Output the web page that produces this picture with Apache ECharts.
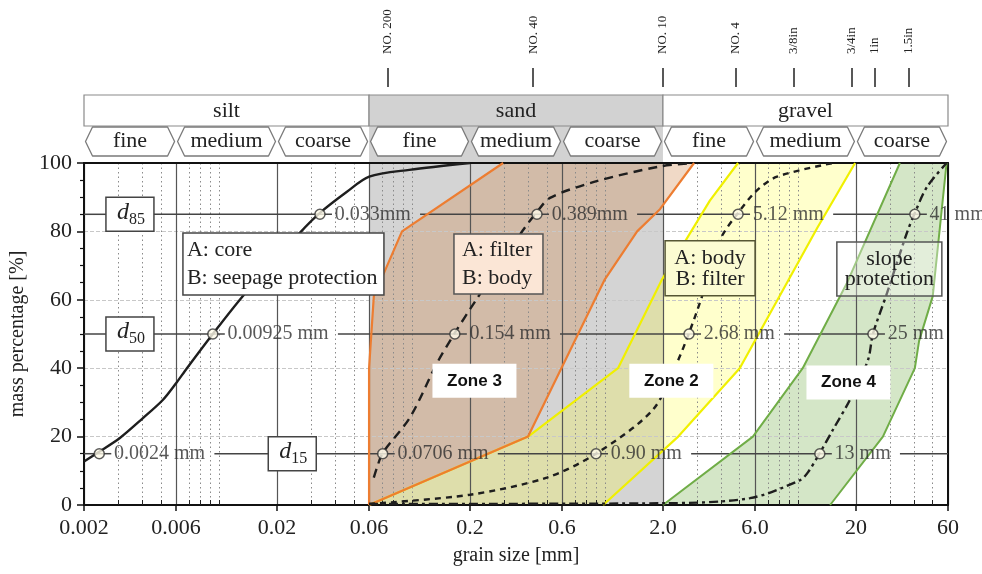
<!DOCTYPE html>
<html>
<head>
<meta charset="utf-8">
<script src="https://cdn.jsdelivr.net/npm/echarts@6/dist/echarts.min.js"></script>
<style>
    html, body { margin: 0; padding: 0; background: #fff; }
    #chart { width: 982px; height: 574px; }
</style>
</head>
<body>
<div id="chart"></div>
<script>
// grain size in mm (x, log), mass percentage (y)
var majorTicks = [0.002, 0.006, 0.02, 0.06, 0.2, 0.6, 2, 6, 20, 60];
var majorLabels = ['0.002', '0.006', '0.02', '0.06', '0.2', '0.6', '2.0', '6.0', '20', '60'];
var minorTicks = [0.003, 0.004, 0.005, 0.007, 0.008, 0.009, 0.01, 0.03, 0.04, 0.05,
    0.07, 0.08, 0.09, 0.1, 0.3, 0.4, 0.5, 0.7, 0.8, 0.9, 1, 3, 4, 5, 7, 8, 9, 10, 30, 40, 50];
var sieveSizes = [0.075, 0.425, 2, 4.75, 9.5, 19, 25, 37.5];
var sieveLabels = ['NO. 200', 'NO. 40', 'NO. 10', 'NO. 4', '3/8in', '3/4in', '1in', '1.5in'];
var soilNames = ['silt', 'sand', 'gravel'];
var soilBounds = [0.002, 0.06, 2, 60];
var subNames = ['fine', 'medium', 'coarse', 'fine', 'medium', 'coarse', 'fine', 'medium', 'coarse'];

// A: core / B: seepage protection
var coreCurve = [[0.002, 12.7], [0.00234, 15.2], [0.00307, 19.6], [0.00404, 25.4], [0.00512, 30.7],
    [0.006, 35.6], [0.00683, 40], [0.0093, 50], [0.0136, 61.7], [0.0262, 79.5], [0.0334, 85.4],
    [0.0459, 91.5], [0.0601, 96], [0.097, 98], [0.2, 100]];
// zone 3 (A: filter / B: body)
var zone3Curve = [[0.0635, 8], [0.066, 11], [0.0706, 15.2], [0.098, 25.7], [0.135, 41.5], [0.167, 50.3],
    [0.212, 59.4], [0.377, 80.4], [0.445, 85.7], [0.52, 89.8], [0.87, 94.4], [1.93, 99], [2.86, 100]];
var zone3Left = [[0.06, 0], [0.06, 40], [0.0635, 61], [0.0889, 80], [0.297, 100]];
var zone3Right = [[0.06, 0], [0.4, 20], [1.0, 66], [1.47, 80], [1.93, 86.5], [2.9, 100]];
// zone 2 (A: body / B: filter)
var zone2Curve = [[0.06, 0.3], [0.2, 3], [0.5, 8], [0.9, 15], [1.77, 27.8], [2.36, 41.5], [2.73, 50.3],
    [3.18, 60.8], [3.95, 77.5], [4.9, 85.4], [6.14, 92], [7.8, 96], [15.2, 100]];
var zone2Left = [[0.06, 0], [0.4, 20], [1.17, 40], [1.98, 66], [3.5, 89], [4.9, 100]];
var zone2Right = [[0.98, 0], [2.4, 20], [5.0, 40], [12.6, 81], [19.8, 100]];
// zone 4 (slope protection)
var zone4Curve = [[0.06, 0.3], [2.0, 0.5], [5.65, 2], [10.3, 7.3], [11.3, 9.6], [13, 15.2], [15.2, 22],
    [18.6, 30.7], [23.1, 42.4], [24.5, 50], [29, 62], [36.7, 79.5], [40.4, 85.4], [46.7, 93], [59, 100]];
var zone4Left = [[2, 0], [5.85, 20], [10.6, 40], [18, 65], [33.8, 100]];
var zone4Right = [[14.7, 0], [27.6, 20], [40.4, 40], [42.5, 48], [50, 61], [59, 100]];

// characteristic grain sizes d15, d50, d85
var dLevels = [15, 50, 85];
var dNames = ['15', '50', '85'];
var coreD = [0.0024, 0.0093, 0.0334];
var coreDText = ['0.0024 mm', '0.00925 mm', '0.033mm'];
var zone3D = [0.0706, 0.167, 0.445];
var zone3DText = ['0.0706 mm', '0.154 mm', '0.389mm'];
var zone2D = [0.9, 2.73, 4.9];
var zone2DText = ['0.90 mm', '2.68 mm', '5.12 mm'];
var zone4D = [13, 24.5, 40.4];
var zone4DText = ['13 mm', '25 mm', '41 mm'];

var noteTexts = ['A: core\nB: seepage protection', 'A: filter\nB: body', 'A: body\nB: filter', 'slope\nprotection'];
var zoneNames = ['Zone 3', 'Zone 2', 'Zone 4'];

// layout of the annotation boxes (centre in data units, size in px)
var noteLayout = [
    { at: [0.0216, 70.5], w: 201, h: 62, align: 'left', pad: 4, lh: 28, fill: '#ffffff', stroke: '#444' },
    { at: [0.281, 70.5], w: 89, h: 60, align: 'left', pad: 8, lh: 28, fill: '#fbe6d6', stroke: '#555' },
    { at: [3.51, 69.2], w: 90, h: 55, align: 'center', pad: 0, lh: 21, fill: '#fbfbd2', stroke: '#555533' },
    { at: [29.8, 69.0], w: 105, h: 54, align: 'center', pad: 0, lh: 20, fill: 'rgba(255,255,255,0.35)', stroke: '#555' }
];
var zoneLabelAt = [[0.211, 36.3], [2.21, 36.3], [18.3, 35.8]];
var dBoxAt = [0.024, 0.00346, 0.00346];

var SERIF = 'Liberation Serif';
var LABEL_FONT = '20px "Liberation Serif"';

var markerSets = [
    { d: coreD, text: coreDText },
    { d: zone3D, text: zone3DText },
    { d: zone2D, text: zone2DText },
    { d: zone4D, text: zone4DText }
];

var measureCtx = document.createElement('canvas').getContext('2d');
function textWidth(t) {
    measureCtx.font = LABEL_FONT;
    return measureCtx.measureText(t).width;
}

function lookup(values, labels) {
    return function (v) {
        for (var i = 0; i < values.length; i++) {
            if (Math.abs(Math.log(v / values[i])) < 1e-4) return labels[i];
        }
        return '';
    };
}

function polygonOf(left, right) {
    return left.concat(right.slice().reverse());
}

function polygonSeries(points, fill) {
    return {
        type: 'custom',
        xAxisIndex: 0,
        yAxisIndex: 0,
        z: 2,
        silent: true,
        data: [[1, 50]],
        renderItem: function (params, api) {
            return {
                type: 'polygon',
                shape: { points: points.map(function (p) { return api.coord(p); }) },
                style: { fill: fill }
            };
        }
    };
}

function lineSeries(data, color, width, type, z) {
    return {
        type: 'line',
        xAxisIndex: 0,
        yAxisIndex: 0,
        data: data,
        symbol: 'none',
        smooth: false,
        z: z,
        silent: true,
        lineStyle: { color: color, width: width, type: type }
    };
}

function curveSeries(data, type) {
    var s = lineSeries(data, '#1e1e1e', 2.4, type, 6);
    s.smooth = 0.3;
    return s;
}

var markerData = [];
markerSets.forEach(function (s) {
    s.d.forEach(function (d, i) {
        markerData.push({ value: [d, dLevels[i]], label: { formatter: s.text[i] } });
    });
});

var chart = echarts.init(document.getElementById('chart'));

var option = {
    animation: false,
    grid: [
        { left: 84, right: 34, top: 163, bottom: 69 },
        { left: 84, right: 34, top: 95, height: 68 }
    ],
    xAxis: [
        {   // main axis with class boundaries
            type: 'log', gridIndex: 0, min: 0.002, max: 60, position: 'bottom', z: 3,
            axisLine: { show: true, lineStyle: { color: '#111', width: 2 } },
            axisTick: { show: true, customValues: majorTicks, length: 6, lineStyle: { color: '#111', width: 1.5 } },
            axisLabel: {
                customValues: majorTicks, formatter: lookup(majorTicks, majorLabels),
                fontFamily: SERIF, fontSize: 22, color: '#222', margin: 12
            },
            splitLine: { show: true, lineStyle: { color: '#555', width: 1.2 } },
            minorTick: { show: false },
            name: 'grain size [mm]', nameLocation: 'middle', nameGap: 41,
            nameTextStyle: { fontFamily: SERIF, fontSize: 20, color: '#222' }
        },
        {   // minor dotted grid
            type: 'log', gridIndex: 0, min: 0.002, max: 60, position: 'bottom', z: 3,
            axisLine: { show: false },
            axisTick: { show: true, inside: true, customValues: minorTicks, length: 5, lineStyle: { color: '#222', width: 1 } },
            axisLabel: { show: false },
            splitLine: { show: true, lineStyle: { color: '#8a8a8a', width: 1, type: [1.5, 3] } }
        },
        {   // sieve sizes
            type: 'log', gridIndex: 0, min: 0.002, max: 60, position: 'top', offset: 76, z: 3,
            axisLine: { show: false },
            axisTick: { show: true, customValues: sieveSizes, length: 19, lineStyle: { color: '#222', width: 1.5 } },
            axisLabel: {
                customValues: sieveSizes, formatter: lookup(sieveSizes, sieveLabels), rotate: -90,
                fontFamily: SERIF, fontSize: 13, color: '#222', margin: 33
            },
            splitLine: { show: false }
        },
        {   // top border
            type: 'log', gridIndex: 0, min: 0.002, max: 60, position: 'top', z: 3,
            axisLine: { show: true, lineStyle: { color: '#111', width: 2 } },
            axisTick: { show: false }, axisLabel: { show: false }, splitLine: { show: false }
        },
        {   // header
            type: 'log', gridIndex: 1, min: 0.002, max: 60, show: false
        }
    ],
    yAxis: [
        {
            type: 'value', gridIndex: 0, min: 0, max: 100, interval: 20, z: 3,
            axisLine: { show: true, lineStyle: { color: '#111', width: 2 } },
            axisTick: { show: true, length: 7, lineStyle: { color: '#111', width: 1.5 } },
            minorTick: { show: true, splitNumber: 4, length: 4, lineStyle: { color: '#111', width: 1.2 } },
            axisLabel: { fontFamily: SERIF, fontSize: 22, color: '#222', margin: 12 },
            splitLine: { show: true, lineStyle: { color: '#c8c8c8', width: 1, type: [4, 2] } },
            name: 'mass percentage [%]', nameLocation: 'middle', nameGap: 40,
            nameTextStyle: { fontFamily: SERIF, fontSize: 20, color: '#222' }
        },
        {
            type: 'value', gridIndex: 0, min: 0, max: 100, position: 'right', z: 3,
            axisLine: { show: true, lineStyle: { color: '#111', width: 2 } },
            axisTick: { show: false }, axisLabel: { show: false }, splitLine: { show: false }
        },
        { type: 'value', gridIndex: 1, min: 0, max: 2, show: false }
    ],
    series: [
        {   // header: silt / sand / gravel
            type: 'custom', xAxisIndex: 4, yAxisIndex: 2, silent: true,
            data: soilNames.map(function (n, i) { return [soilBounds[i], 1]; }),
            renderItem: function (params, api) {
                var i = params.dataIndex;
                var a = api.coord([soilBounds[i], 2]), b = api.coord([soilBounds[i + 1], 0]);
                var sand = soilNames[i] === 'sand';
                var children = [];
                if (sand) {
                    children.push({ type: 'rect', shape: { x: a[0], y: a[1], width: b[0] - a[0], height: b[1] - a[1] }, style: { fill: '#d2d2d2' } });
                }
                children.push({ type: 'rect', shape: { x: a[0], y: a[1], width: b[0] - a[0], height: 31 },
                    style: { fill: sand ? '#d2d2d2' : '#fff', stroke: '#8a8a8a', lineWidth: 1.2 } });
                children.push({ type: 'text', style: { text: soilNames[i], x: (a[0] + b[0]) / 2, y: a[1] + 16,
                    align: 'center', verticalAlign: 'middle', font: '22px "Liberation Serif"', fill: '#222' } });
                return { type: 'group', children: children };
            }
        },
        {   // header: fine / medium / coarse
            type: 'custom', xAxisIndex: 4, yAxisIndex: 2, silent: true, z: 3,
            data: subNames.map(function (n, i) { return [majorTicks[i], 1]; }),
            renderItem: function (params, api) {
                var i = params.dataIndex;
                var x1 = api.coord([majorTicks[i], 0])[0] + 1.5;
                var x2 = api.coord([majorTicks[i + 1], 0])[0] - 1.5;
                var top = api.coord([1, 2])[1];
                var y1 = top + 32, y2 = top + 61, ym = (y1 + y2) / 2, d = 7;
                return {
                    type: 'group',
                    children: [
                        { type: 'polygon', shape: { points: [[x1, ym], [x1 + d, y1], [x2 - d, y1], [x2, ym], [x2 - d, y2], [x1 + d, y2]] },
                          style: { fill: '#fff', stroke: '#7a7a7a', lineWidth: 1.3, lineJoin: 'round' } },
                        { type: 'text', style: { text: subNames[i], x: (x1 + x2) / 2, y: ym, align: 'center', verticalAlign: 'middle',
                          font: '22px "Liberation Serif"', fill: '#222' } }
                    ]
                };
            }
        },
        {   // sand background in the plot
            type: 'custom', xAxisIndex: 0, yAxisIndex: 0, silent: true, z: 1,
            data: [[soilBounds[1], 50]],
            renderItem: function (params, api) {
                var a = api.coord([soilBounds[1], 100]), b = api.coord([soilBounds[2], 0]);
                return { type: 'rect', shape: { x: a[0], y: a[1], width: b[0] - a[0], height: b[1] - a[1] }, style: { fill: '#d4d4d4' } };
            }
        },
        polygonSeries(polygonOf(zone4Left, zone4Right), 'rgba(112,173,71,0.30)'),
        polygonSeries(polygonOf(zone2Left, zone2Right), 'rgba(255,255,40,0.24)'),
        polygonSeries(polygonOf(zone3Left, zone3Right.slice(1)), 'rgba(205,130,65,0.30)'),
        {   // d15 / d50 / d85 reference lines with their boxes
            type: 'custom', xAxisIndex: 0, yAxisIndex: 0, silent: true, z: 4,
            data: dLevels.map(function (l) { return [1, l]; }),
            renderItem: function (params, api) {
                var i = params.dataIndex, level = dLevels[i];
                var y = api.coord([1, level])[1];
                var xs = params.coordSys.x, xe = xs + params.coordSys.width;
                var bc = api.coord([dBoxAt[i], level])[0];
                var gaps = [[bc - 24, bc + 24]];
                markerSets.forEach(function (s) {
                    var mx = api.coord([s.d[i], level])[0];
                    gaps.push([mx + 12, mx + 14 + textWidth(s.text[i]) + 10]);
                });
                gaps.sort(function (a, b) { return a[0] - b[0]; });
                var children = [];
                var cur = xs;
                gaps.forEach(function (g) {
                    if (g[0] > cur) {
                        children.push({ type: 'line', shape: { x1: cur, y1: y, x2: Math.min(g[0], xe), y2: y }, style: { stroke: '#444', lineWidth: 1.5 } });
                    }
                    cur = Math.max(cur, g[1]);
                });
                if (cur < xe) {
                    children.push({ type: 'line', shape: { x1: cur, y1: y, x2: xe, y2: y }, style: { stroke: '#444', lineWidth: 1.5 } });
                }
                children.push({ type: 'rect', shape: { x: bc - 24, y: y - 17, width: 48, height: 34 }, style: { fill: '#fff', stroke: '#444', lineWidth: 1.5 } });
                children.push({ type: 'text', style: { text: 'd', x: bc - 7, y: y - 2, align: 'center', verticalAlign: 'middle',
                    font: 'italic 24px "Liberation Serif"', fill: '#222' } });
                children.push({ type: 'text', style: { text: dNames[i], x: bc + 7, y: y + 5, align: 'center', verticalAlign: 'middle',
                    font: '16px "Liberation Serif"', fill: '#222' } });
                return { type: 'group', children: children };
            }
        },
        lineSeries(zone4Left, '#70ad47', 2, 'solid', 5),
        lineSeries(zone4Right, '#70ad47', 2, 'solid', 5),
        lineSeries(zone2Left, '#f0f000', 2.2, 'solid', 5),
        lineSeries(zone2Right, '#f0f000', 2.2, 'solid', 5),
        lineSeries(zone3Left, '#ed7d31', 2.2, 'solid', 5),
        lineSeries(zone3Right, '#ed7d31', 2.2, 'solid', 5),
        curveSeries(coreCurve, 'solid'),
        curveSeries(zone3Curve, [9, 6]),
        curveSeries(zone2Curve, [6, 5]),
        curveSeries(zone4Curve, [9, 4, 3, 4]),
        {   // annotation boxes
            type: 'custom', xAxisIndex: 0, yAxisIndex: 0, silent: true, z: 7,
            data: noteLayout.map(function (b) { return b.at; }),
            renderItem: function (params, api) {
                var b = noteLayout[params.dataIndex];
                var c = api.coord(b.at);
                var left = c[0] - b.w / 2;
                return {
                    type: 'group',
                    children: [
                        { type: 'rect', shape: { x: left, y: c[1] - b.h / 2, width: b.w, height: b.h },
                          style: { fill: b.fill, stroke: b.stroke, lineWidth: 1.5 } },
                        { type: 'text', style: { text: noteTexts[params.dataIndex], x: b.align === 'left' ? left + b.pad : c[0], y: c[1],
                          align: b.align, verticalAlign: 'middle', font: '22px "Liberation Serif"', lineHeight: b.lh, fill: '#222' } }
                    ]
                };
            }
        },
        {   // zone labels
            type: 'custom', xAxisIndex: 0, yAxisIndex: 0, silent: true, z: 8,
            data: zoneLabelAt,
            renderItem: function (params, api) {
                var c = api.coord(zoneLabelAt[params.dataIndex]);
                return {
                    type: 'group',
                    children: [
                        { type: 'rect', shape: { x: c[0] - 42, y: c[1] - 17, width: 84, height: 34 }, style: { fill: '#fff' } },
                        { type: 'text', style: { text: zoneNames[params.dataIndex], x: c[0], y: c[1], align: 'center', verticalAlign: 'middle',
                          font: 'bold 17px "Liberation Sans"', fill: '#111' } }
                    ]
                };
            }
        },
        {   // d markers
            type: 'scatter', xAxisIndex: 0, yAxisIndex: 0, silent: true, z: 9,
            symbol: 'circle', symbolSize: 10,
            itemStyle: { color: '#fffbea', borderColor: '#333', borderWidth: 1.5 },
            label: { show: true, position: 'right', distance: 9, fontFamily: SERIF, fontSize: 20, color: '#2e2e2e' },
            data: markerData
        }
    ]
};

chart.setOption(option);
</script>
</body>
</html>
